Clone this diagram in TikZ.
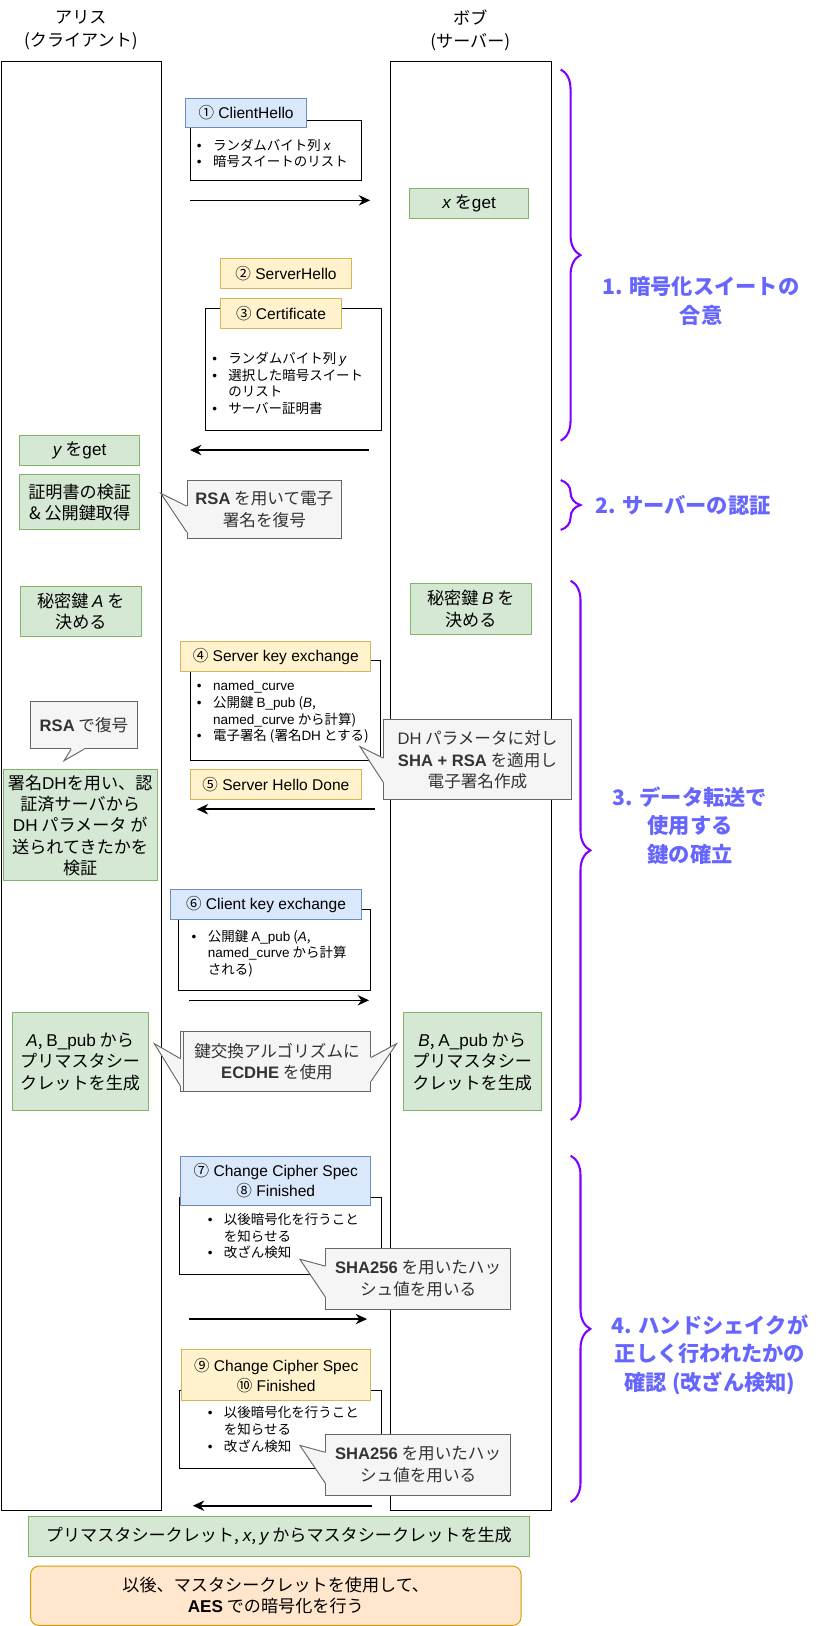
\documentclass[tikz,border=0pt]{standalone}
\usepackage{fontspec}
\setmainfont{Noto Sans CJK JP}
\newfontfamily\lsans{Liberation Sans}
\newfontfamily\jpsans{Noto Sans CJK JP}
\usetikzlibrary{calc, arrows.meta, decorations.pathreplacing}

\definecolor{gfill}{HTML}{D5E8D4}
\definecolor{gline}{HTML}{82B366}
\definecolor{bfill}{HTML}{DAE8FC}
\definecolor{bline}{HTML}{6C8EBF}
\definecolor{yfill}{HTML}{FFF2CC}
\definecolor{yline}{HTML}{D6B656}
\definecolor{ofill}{HTML}{FFE6CC}
\definecolor{oline}{HTML}{D79B00}
\definecolor{cfill}{HTML}{F5F5F5}
\definecolor{cline}{HTML}{666666}
\definecolor{ctext}{HTML}{333333}
\definecolor{brkcol}{HTML}{7F00FF}
\definecolor{lblcol}{HTML}{6666FF}

\newcommand{\fsz}[2]{\fontsize{#1}{#2}\selectfont}
\newcommand{\vr}[1]{{\lsans\itshape #1}}
\newcommand{\bw}[1]{{\lsans\bfseries #1}}
\newcommand{\lt}[1]{{\lsans #1}}
\newcommand{\cn}[1]{{\jpsans #1}}
\newcommand{\bul}{{\lsans\textbullet}}
\newcommand{\blist}[1]{\begin{tabular}[t]{@{}l@{\hspace{11pt}}l@{}}#1\end{tabular}}
% callout pointer: edge from #1 to #2, base at #3..#4, tip #5, inward shift #6
\newcommand{\pointer}[6]{%
  \fill[cfill] ($(#1)!#3!(#2)$) -- (#5) -- ($(#1)!#4!(#2)$) -- ($(#1)!#4!(#2)+#6$) -- ($(#1)!#3!(#2)+#6$) -- cycle;
  \draw[ptrline] ($(#1)!#3!(#2)$) -- (#5) -- ($(#1)!#4!(#2)$);}

\tikzset{
    sz/.style 2 args={minimum width=#1, minimum height=#2},
    box/.style={draw, line width=0.9pt, inner sep=0pt, anchor=north west, align=center},
    life/.style={box, draw=black},
    hdr/.style={inner sep=0pt, align=center, font=\fsz{16.5}{22}},
    cbox/.style={box, fill=white, draw=black},
    gbox/.style={box, fill=gfill, draw=gline, font=\fsz{16.5}{20.6}},
    obox/.style={box, fill=ofill, draw=oline, rounded corners=8pt, font=\fsz{16.5}{20.6}},
    bhead/.style={box, fill=bfill, draw=bline, font=\lsans\fsz{15}{19.5}},
    yhead/.style={box, fill=yfill, draw=yline, font=\lsans\fsz{15}{19.5}},
    note/.style={box, fill=cfill, draw=cline, text=ctext, font=\fsz{16}{21}},
    ptrline/.style={draw=cline, line width=0.9pt},
    items/.style={anchor=base west, inner sep=0pt, font=\fsz{13}{16}},
    msg/.style={line width=1.5pt, -{Stealth[length=11pt, width=10pt]}},
    phasebrace/.style={draw=brkcol, line width=2pt, decorate, decoration={brace, amplitude=19pt}},
    phase/.style={text=lblcol, inner sep=0pt, align=center, font=\bfseries\fsz{20.5}{27.5}}
}

\begin{document}
\begin{tikzpicture}[x=1pt, y=-1pt]
\useasboundingbox (0,0) rectangle (790.7,1568);
% lifelines
\node[life, sz={154.5}{1397.5}] (alice) at (0.5,58.5) {};
\node[life, sz={155}{1397.5}] (bob) at (376,58.5) {};
\node[hdr] (aliceHdr) at (78,29) {アリス\\(クライアント)};
\node[hdr] (bobHdr) at (453.5,29) {ボブ\\(サーバー)};

% 1. cipher suite agreement
\node[cbox, sz={164.4}{58}] (helloBody) at (183.6,116) {};
\node[bhead, sz={116.1}{28.6}] (clientHello) at (178.8,94.2) {\cn{①} ClientHello};
\node[items] (helloItems) at (189.7,144.9) {\blist{\bul & ランダムバイト列 \vr{x}\\ \bul & 暗号スイートのリスト}};
\coordinate (m1a) at (183.6,193.2);
\coordinate (m1b) at (357,193.2);
\draw[msg] (m1a) -- (m1b);
\node[gbox, sz={114.5}{29}] (xGet) at (394.7,181.7) {\vr{x} を\lt{get}};

\node[yhead, sz={125.8}{28.9}] (serverHello) at (212.5,249.2) {\cn{②} ServerHello};
\node[cbox, sz={169}{117.1}] (certBody) at (198,297.4) {};
\node[yhead, sz={116.1}{28.9}] (certificate) at (212.5,287.8) {\cn{③} Certificate};
\node[items] (certItems) at (204.5,350.7) {\blist{\bul & ランダムバイト列 \vr{y}\\ \bul & 選択した暗号スイート\\ & のリスト\\ \bul & サーバー証明書}};
\coordinate (m3a) at (355.9,434);
\coordinate (m3b) at (183.2,434);
\draw[msg] (m3a) -- (m3b);
\node[gbox, sz={116.1}{28.9}] (yGet) at (18.3,419.5) {\vr{y} を\lt{get}};

% 2. server authentication
\node[gbox, sz={116.1}{53.1}] (certCheck) at (18.3,457.4) {証明書の検証\\\& 公開鍵取得};
\node[note, sz={149}{56}] (rsaSig) at (180,463) {\bw{RSA} を用いて電子\\署名を復号};
\coordinate (rsaSigTip) at (155,475.7);
\pointer{rsaSig.north west}{rsaSig.south west}{0.44}{0.88}{rsaSigTip}{(1.5,0)}

% 3. key exchange
\node[gbox, sz={116.4}{48.8}] (keyA) at (19.3,564.8) {秘密鍵 \vr{A} を\\決める};
\node[gbox, sz={116.3}{48.5}] (keyB) at (395.4,562.5) {秘密鍵 \vr{B} を\\決める};
\node[cbox, sz={183.2}{96.7}] (skxBody) at (183.5,636.5) {};
\node[yhead, sz={183.2}{28.7}] (skx) at (173.9,618.4) {\cn{④} Server key exchange};
\node[items] (skxItems) at (189.7,666.2) {\blist{\bul & \lt{named\_curve}\\ \bul & 公開鍵 \lt{B\_pub} (\vr{B},\\ & \lt{named\_curve} から計算)\\ \bul & 電子署名 (署名\lt{DH} とする)}};
\node[note, sz={180.6}{77.2}] (dhSig) at (369.7,693.6) {\lt{DH} パラメータに対し\\\bw{SHA + RSA} を適用し\\電子署名作成};
\coordinate (dhSigTip) at (347.2,720);
\pointer{dhSig.north west}{dhSig.south west}{0.48}{0.78}{dhSigTip}{(1.5,0)}
\node[yhead, sz={164.3}{29}] (helloDone) at (183.5,741.8) {\cn{⑤} Server Hello Done};
\coordinate (m5a) at (361.6,780.4);
\coordinate (m5b) at (189.7,780.4);
\draw[msg] (m5a) -- (m5b);

\node[note, sz={102.5}{46}] (rsaDec) at (29.3,675.6) {\bw{RSA} で復号};
\coordinate (rsaDecTip) at (61.7,733.6);
\pointer{rsaDec.south west}{rsaDec.south east}{0.38}{0.5}{rsaDecTip}{(0,-1.5)}
\node[gbox, sz={148.5}{107.1}] (dhCheck) at (2.6,741.8) {署名\lt{DH}を用い、認\\証済サーバから\\\lt{DH} パラメータ が\\送られてきたかを\\検証};

\node[cbox, sz={185.8}{78.1}] (ckxBody) at (171.3,876.9) {};
\node[bhead, sz={183.5}{28.9}] (ckx) at (164.3,857.6) {\cn{⑥} Client key exchange};
\node[items] (ckxItems) at (184.7,907.6) {\blist{\bul & 公開鍵 \lt{A\_pub} (\vr{A},\\ & \lt{named\_curve} から計算\\ & される)}};
\coordinate (m6a) at (182.3,964.6);
\coordinate (m6b) at (355.9,964.6);
\draw[msg] (m6a) -- (m6b);

\node[gbox, sz={131.2}{94.5}] (preA) at (11.2,976.2) {\vr{A}, \lt{B\_pub} から\\プリマスタシー\\クレットを生成};
\node[gbox, sz={133.1}{94.3}] (preB) at (388.3,976.2) {\vr{B}, \lt{A\_pub} から\\プリマスタシー\\クレットを生成};
\node[note, sz={183.2}{57.6}] (ecdheBack) at (173.9,994.5) {};
\coordinate (ecdheTipL) at (148.8,1006.4);
\pointer{ecdheBack.north west}{ecdheBack.south west}{0.45}{0.9}{ecdheTipL}{(1.5,0)}
\node[note, sz={180.9}{57.6}] (ecdhe) at (176.2,994.5) {鍵交換アルゴリズムに\\\bw{ECDHE} を使用};
\coordinate (ecdheTipR) at (382.5,1006.4);
\pointer{ecdhe.north east}{ecdhe.south east}{0.43}{0.82}{ecdheTipR}{(-1.5,0)}

% 4. finished
\node[cbox, sz={194.4}{74.3}] (finCBody) at (172.6,1154.1) {};
\node[bhead, sz={183.2}{47.6}] (finC) at (173.9,1114.4) {\cn{⑦} Change Cipher Spec\\\cn{⑧} Finished};
\node[items] (finCItems) at (200.2,1181) {\blist{\bul & 以後暗号化を行うこと\\ & を知らせる\\ \bul & 改ざん検知}};
\node[note, sz={178}{59}] (hashC) at (313.8,1203) {\bw{SHA256} を用いたハッ\\シュ値を用いる};
\coordinate (hashCTip) at (289.2,1214.3);
\pointer{hashC.north west}{hashC.south west}{0.3}{0.8}{hashCTip}{(1.5,0)}
\coordinate (m7a) at (182,1272);
\coordinate (m7b) at (354,1272);
\draw[msg] (m7a) -- (m7b);

\node[cbox, sz={194.4}{74.8}] (finSBody) at (172.6,1340.4) {};
\node[yhead, sz={182.6}{49}] (finS) at (174.6,1301.2) {\cn{⑨} Change Cipher Spec\\\cn{⑩} Finished};
\node[items] (finSItems) at (200.2,1367.3) {\blist{\bul & 以後暗号化を行うこと\\ & を知らせる\\ \bul & 改ざん検知}};
\node[note, sz={178}{59.1}] (hashS) at (313.8,1382.5) {\bw{SHA256} を用いたハッ\\シュ値を用いる};
\coordinate (hashSTip) at (289.2,1393.8);
\pointer{hashS.north west}{hashS.south west}{0.3}{0.8}{hashSTip}{(1.5,0)}
\coordinate (m9a) at (359,1452);
\coordinate (m9b) at (186,1452);
\draw[msg] (m9a) -- (m9b);

% result
\node[gbox, sz={483}{38.6}] (master) at (27,1461.6) {プリマスタシークレット, \vr{x}, \vr{y} からマスタシークレットを生成};
\node[obox, sz={473}{57.2}] (aes) at (29,1509.8) {以後、マスタシークレットを使用して、\\\bw{AES} での暗号化を行う};

% phases
\draw[phasebrace] (540.7,67) -- (540.7,425);
\draw[phasebrace] (540.7,463) -- (540.7,511);
\draw[phasebrace] (550.3,560) -- (550.3,1080);
\draw[phasebrace] (550.3,1114.5) -- (550.3,1448.5);
\node[phase] (phase1) at (676,290.1) {1. 暗号化スイートの\\合意};
\node[phase, anchor=west] (phase2) at (573.8,487) {2. サーバーの認証};
\node[phase] (phase3) at (665.4,796) {3. データ転送で\\使用する\\鍵の確立};
\node[phase] (phase4) at (684.7,1306.2) {4. ハンドシェイクが\\正しく行われたかの\\確認 (改ざん検知)};
\end{tikzpicture}
\end{document}
